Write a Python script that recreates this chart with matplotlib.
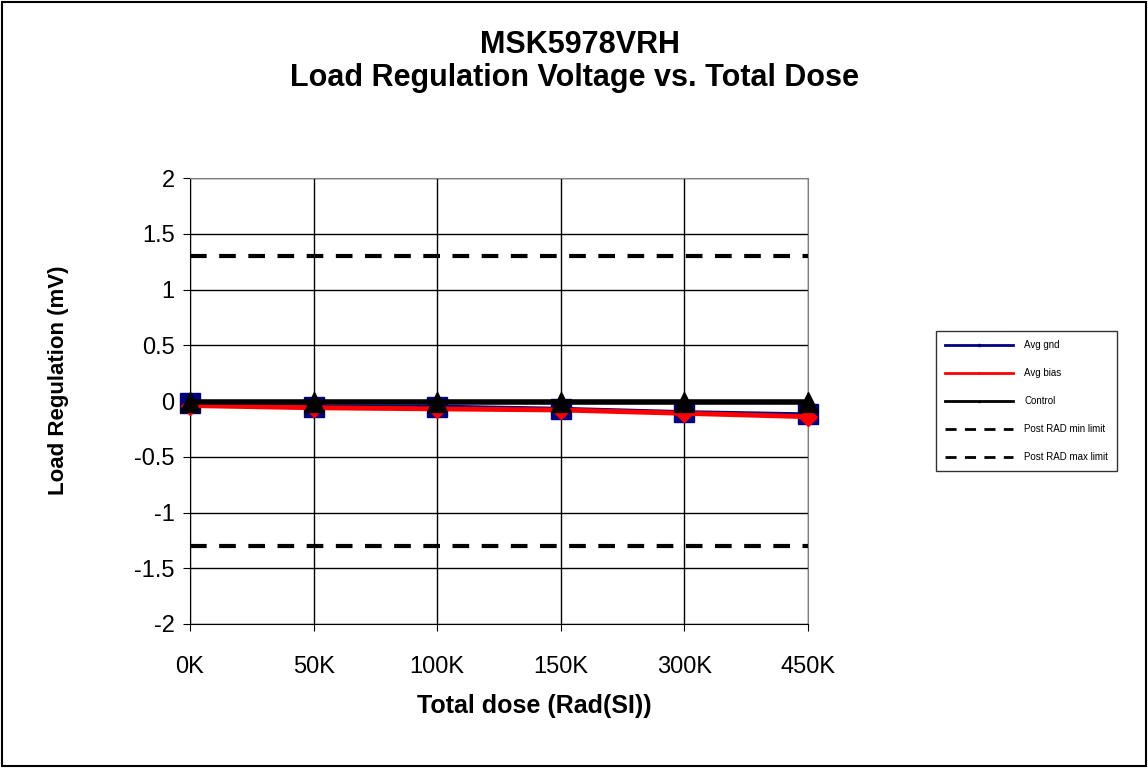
import matplotlib
matplotlib.use('Agg')
import matplotlib.pyplot as plt
from matplotlib.patches import Rectangle

plt.rcParams['font.family'] = ['Liberation Sans', 'DejaVu Sans']

doses = ['0K', '50K', '100K', '150K', '300K', '450K']
avg_gnd = [-0.02, -0.05, -0.05, -0.07, -0.10, -0.12]
avg_bias = [-0.04, -0.06, -0.07, -0.08, -0.11, -0.14]
control = [-0.01, -0.01, -0.01, -0.01, -0.01, -0.01]
min_limit = [-1.3] * len(doses)
max_limit = [1.3] * len(doses)

fig = plt.figure(figsize=(11.48, 7.68), dpi=100)
fig.patches.append(Rectangle((0.002, 0.002), 0.996, 0.996, transform=fig.transFigure,
                             fill=False, edgecolor='black', linewidth=1.5))
ax = fig.add_axes([0.1655, 0.1875, 0.5383, 0.5805])

x = list(range(len(doses)))
ax.plot(x, avg_gnd, color='#000080', linewidth=3, marker='s', markersize=14,
        markerfacecolor='#000080', label='Avg gnd', zorder=3, clip_on=False)
ax.plot(x, avg_bias, color='red', linewidth=3.5, marker='D', markersize=9,
        label='Avg bias', zorder=4, clip_on=False)
ax.plot(x, control, color='black', linewidth=4, marker='^', markersize=14,
        label='Control', zorder=5, clip_on=False)
ax.plot(x, min_limit, color='black', linewidth=3, linestyle=(0, (4, 3)),
        label='Post RAD min limit', zorder=2)
ax.plot(x, max_limit, color='black', linewidth=3, linestyle=(0, (4, 3)),
        label='Post RAD max limit', zorder=2)

ax.set_xlim(0, 5)
ax.set_ylim(-2, 2)
ax.set_xticks(x)
ax.set_xticklabels(doses)
ax.set_yticks([-2, -1.5, -1, -0.5, 0, 0.5, 1, 1.5, 2])
ax.set_yticklabels(['-2', '-1.5', '-1', '-0.5', '0', '0.5', '1', '1.5', '2'])
ax.tick_params(labelsize=17, length=5, direction='out')
ax.tick_params(axis='x', pad=18)
ax.tick_params(axis='y', pad=6)
ax.grid(True, color='black', linewidth=1)
for s in ax.spines.values():
    s.set_color('#808080')
ax.spines['left'].set_color('black')
ax.spines['bottom'].set_color('black')

ax.set_xlabel('Total dose (Rad(SI))', fontsize=18, fontweight='bold')
ax.set_ylabel('Load Regulation (mV)', fontsize=16, fontweight='bold')
ax.xaxis.set_label_coords(0.557, -0.157)
ax.yaxis.set_label_coords(-0.195, 0.547)

fig.text(0.505, 0.942, 'MSK5978VRH', ha='center', va='center',
         fontsize=22, fontweight='bold')
fig.text(0.5, 0.898, 'Load Regulation Voltage vs. Total Dose', ha='center',
         va='center', fontsize=22, fontweight='bold')

leg = fig.legend(loc='upper left', bbox_to_anchor=(0.811, 0.575), fontsize=7,
                 frameon=True, fancybox=False, edgecolor='black',
                 handlelength=7, labelspacing=1.85, borderpad=0.9,
                 handletextpad=1.2, markerscale=0.1)
leg.get_frame().set_linewidth(1)
for line in leg.get_lines():
    line.set_linewidth(2)

fig.savefig('out.png', dpi=100)
